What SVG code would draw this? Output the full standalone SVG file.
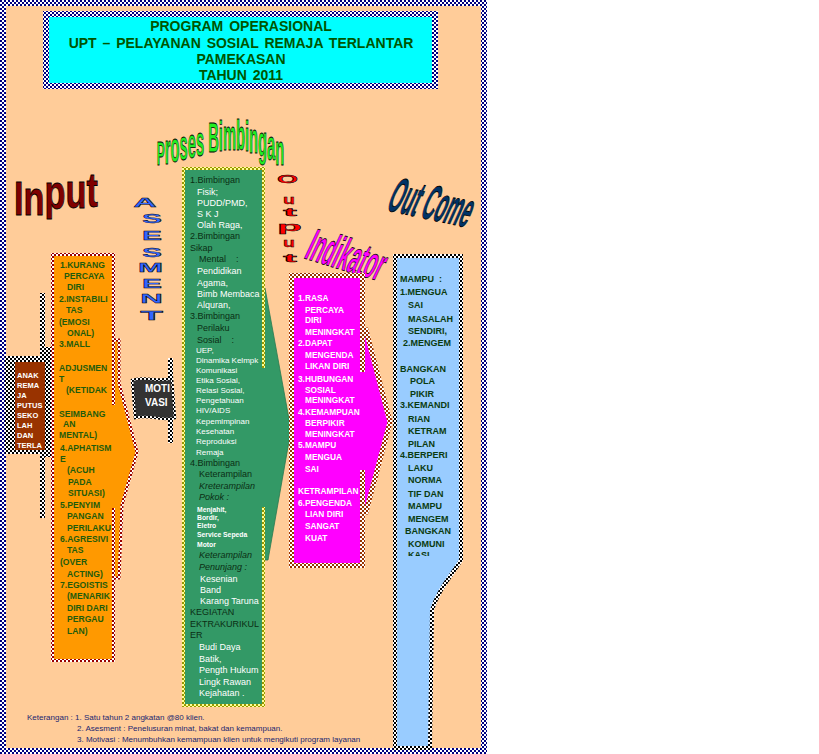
<svg xmlns="http://www.w3.org/2000/svg" width="819" height="754" viewBox="0 0 819 754">
<defs>
<pattern id="pNavy" width="4" height="4" patternUnits="userSpaceOnUse"><rect width="4" height="4" fill="#fff"/><rect width="2" height="2" fill="#000080"/><rect x="2" y="2" width="2" height="2" fill="#000080"/></pattern>
<pattern id="pRed" width="4" height="4" patternUnits="userSpaceOnUse"><rect width="4" height="4" fill="#fff"/><rect width="2" height="2" fill="#990000"/><rect x="2" y="2" width="2" height="2" fill="#990000"/></pattern>
<pattern id="pBrown" width="4" height="4" patternUnits="userSpaceOnUse"><rect width="4" height="4" fill="#fff"/><rect width="2" height="2" fill="#993300"/><rect x="2" y="2" width="2" height="2" fill="#993300"/></pattern>
<pattern id="pOlive" width="4" height="4" patternUnits="userSpaceOnUse"><rect width="4" height="4" fill="#ffff99"/><rect width="2" height="2" fill="#999900"/><rect x="2" y="2" width="2" height="2" fill="#999900"/></pattern>
<pattern id="pBlack" width="4" height="4" patternUnits="userSpaceOnUse"><rect width="4" height="4" fill="#fff"/><rect width="2" height="2" fill="#000"/><rect x="2" y="2" width="2" height="2" fill="#000"/></pattern>
<clipPath id="clipBlue"><rect x="395" y="256" width="70" height="300"/></clipPath>
</defs>
<style>
text{font-family:"Liberation Sans",Arial,sans-serif}
.ttl{font-size:14px;font-weight:bold;fill:#005500;text-anchor:middle;word-spacing:2px}
.or{font-size:8.6px;font-weight:bold;fill:#1f5c0c}
.mg{font-size:8.3px;font-weight:bold;fill:#fff}
.bl{font-size:9px;font-weight:bold;fill:#0b3b10}
.gd{font-size:9px;fill:#0b2e14}
.gi{font-size:9px;font-style:italic;fill:#0b2e14}
.gw{font-size:9px;fill:#fff}
.gs{font-size:8px;fill:#fff}
.gt{font-size:6.8px;font-weight:bold;fill:#fff}
.an{font-size:7.5px;font-weight:bold;fill:#fff}
.nt{font-size:8px;fill:#1a2670}
.wa{font-weight:bold;stroke:#000;stroke-width:0.6}
.asm{font-size:12px;font-weight:bold;fill:#3366ff;stroke:#000;stroke-width:0.35;text-anchor:middle}
.opt{font-size:13px;font-weight:bold;fill:#ff0000;stroke:#000;stroke-width:0.35}
</style>

<g id="page">
<rect x="3" y="3" width="481" height="748" fill="#ffcc99" stroke="url(#pNavy)" stroke-width="6"/>
</g>

<g id="title">
<rect x="46" y="14" width="389" height="72" fill="#00ffff" stroke="url(#pNavy)" stroke-width="6"/>
<text class="ttl" x="241" y="31">PROGRAM  OPERASIONAL</text>
<text class="ttl" x="241" y="48">UPT – PELAYANAN  SOSIAL  REMAJA  TERLANTAR</text>
<text class="ttl" x="241" y="64">PAMEKASAN</text>
<text class="ttl" x="241" y="80">TAHUN 2011</text>
</g>

<g id="wordart">
<text class="wa" transform="translate(14,215) scale(0.98,1.38)" font-size="35" fill="#800000" y="0 0 -4 -5 -6">Input</text>
<text class="wa" transform="scale(0.46,1.3)" font-size="32" fill="#22ee22" x="341" y="126.9 126.2 124.6 123.1 121.5 120 119.2 116.9 116.2 115.4 115.4 116.2 117.7 120 123.1 126.9"><tspan font-size="26">P</tspan>roses Bimbingan</text>
<text class="wa" transform="translate(303,258) rotate(17) skewX(-8) scale(0.58,1.45)" font-size="32" fill="#ff00ff">Indikator</text>
<text class="wa" transform="translate(385,210) rotate(12) skewX(-12) scale(0.54,1.55)" font-size="32" fill="#003366">Out Come</text>
<g id="asesment">
<text class="asm" transform="translate(145,207) scale(2.7,1)">A</text>
<text class="asm" transform="translate(152,223) scale(2.5,1)">S</text>
<text class="asm" transform="translate(152,240) scale(2.5,1)">E</text>
<text class="asm" transform="translate(152,257) scale(2.5,1)">S</text>
<text class="asm" transform="translate(150.5,272) scale(2.5,1)">M</text>
<text class="asm" transform="translate(152,288) scale(2.5,1)">E</text>
<text class="asm" transform="translate(151.5,303) scale(2.6,1)">N</text>
<text class="asm" transform="translate(151.5,320) scale(3.1,1)">T</text>
</g>
<g id="output">
<text class="opt"><tspan x="277" y="183" font-size="11" textLength="21" lengthAdjust="spacingAndGlyphs">O</tspan><tspan x="283" y="204" textLength="12" lengthAdjust="spacingAndGlyphs">u</tspan><tspan x="283" y="215.5" font-size="11" textLength="14" lengthAdjust="spacingAndGlyphs">t</tspan><tspan x="277" y="231" textLength="25" lengthAdjust="spacingAndGlyphs">p</tspan><tspan x="283" y="247" textLength="12" lengthAdjust="spacingAndGlyphs">u</tspan><tspan x="283" y="262" font-size="11" textLength="14" lengthAdjust="spacingAndGlyphs">t</tspan></text>
</g>
</g>

<g id="connectors"></g>

<g id="node-anak">
<rect x="40" y="293" width="5" height="225" fill="url(#pBlack)"/>
<rect x="45" y="347" width="6" height="110" fill="url(#pBlack)"/>
<rect x="5" y="356" width="42" height="98" fill="url(#pBlack)"/>
<rect x="15" y="362" width="30" height="88" fill="#993300"/>
<text class="an" x="17" y="378">ANAK</text>
<text class="an" x="17" y="388">REMA</text>
<text class="an" x="17" y="398">JA</text>
<text class="an" x="17" y="408">PUTUS</text>
<text class="an" x="17" y="418">SEKO</text>
<text class="an" x="17" y="428">LAH</text>
<text class="an" x="17" y="438">DAN</text>
<text class="an" x="17" y="448">TERLA</text>
</g>

<g id="node-input">
<polygon points="100,340 119,340 119,383 137,452 122,505 119,578 100,578" fill="#ff9900" stroke="url(#pRed)" stroke-width="3"/>
<rect x="52.5" y="254.5" width="61" height="406" fill="#ff9900" stroke="url(#pRed)" stroke-width="3"/>
<rect x="110" y="405" width="9" height="103" fill="#ff9900"/>
<text class="or" x="60" y="268">1.KURANG</text>
<text class="or" x="64" y="279">PERCAYA</text>
<text class="or" x="67" y="290">DIRI</text>
<text class="or" x="59" y="302">2.INSTABILI</text>
<text class="or" x="66" y="313">TAS</text>
<text class="or" x="59" y="325">(EMOSI</text>
<text class="or" x="67" y="336">ONAL)</text>
<text class="or" x="59" y="347">3.MALL</text>
<text class="or" x="59" y="371">ADJUSMEN</text>
<text class="or" x="59" y="382">T</text>
<text class="or" x="66" y="393">(KETIDAK</text>
<text class="or" x="59" y="417">SEIMBANG</text>
<text class="or" x="63" y="427">AN</text>
<text class="or" x="59" y="438">MENTAL)</text>
<text class="or" x="60" y="451">4.APHATISM</text>
<text class="or" x="60" y="462">E</text>
<text class="or" x="67" y="473">(ACUH</text>
<text class="or" x="68" y="485">PADA</text>
<text class="or" x="68" y="496">SITUASI)</text>
<text class="or" x="60" y="508">5.PENYIM</text>
<text class="or" x="67" y="519">PANGAN</text>
<text class="or" x="67" y="531">PERILAKU</text>
<text class="or" x="60" y="542">6.AGRESIVI</text>
<text class="or" x="67" y="553">TAS</text>
<text class="or" x="60" y="565">(OVER</text>
<text class="or" x="67" y="577">ACTING)</text>
<text class="or" x="60" y="588">7.EGOISTIS</text>
<text class="or" x="67" y="599">(MENARIK</text>
<text class="or" x="67" y="611">DIRI DARI</text>
<text class="or" x="67" y="622">PERGAU</text>
<text class="or" x="67" y="634">LAN)</text>
</g>

<g id="node-motivasi">
<rect x="168" y="358" width="5" height="85" fill="url(#pBlack)"/>
<path d="M132,380 C145,375 158,383 172,378 L175,418 C162,422 150,414 135,418 Z" fill="#333333" stroke="url(#pBlack)" stroke-width="2.5"/>
<text x="145" y="392" font-size="10" font-weight="bold" fill="#fff">MOTI</text>
<text x="145" y="406" font-size="10" font-weight="bold" fill="#fff">VASI</text>
</g>

<g id="node-proses">
<polygon points="250,288 265,288 291,430 268,560 250,560" fill="#339966" stroke="#2a7a50" stroke-width="0.8"/>
<rect x="183.5" y="168.5" width="80" height="537" fill="#339966" stroke="url(#pOlive)" stroke-width="3"/>
<rect x="260" y="368" width="8" height="139" fill="#339966"/>
<text class="gd" x="190" y="183">1.Bimbingan</text>
<text class="gw" x="197" y="195">Fisik;</text>
<text class="gw" x="197" y="206">PUDD/PMD,</text>
<text class="gw" x="197" y="217">S K J</text>
<text class="gw" x="197" y="228">Olah Raga,</text>
<text class="gd" x="190" y="239">2.Bimbingan</text>
<text class="gd" x="190" y="251">Sikap</text>
<text class="gd" x="199" y="262" xml:space="preserve">Mental    :</text>
<text class="gw" x="197" y="274">Pendidikan</text>
<text class="gw" x="197" y="286">Agama,</text>
<text class="gw" x="197" y="297">Bimb Membaca</text>
<text class="gw" x="197" y="308">Alquran,</text>
<text class="gd" x="190" y="319">3.Bimbingan</text>
<text class="gd" x="197" y="331">Perilaku</text>
<text class="gd" x="197" y="343" xml:space="preserve">Sosial    :</text>
<text class="gs" x="196" y="353">UEP,</text>
<text class="gs" x="196" y="363">Dinamika Kelmpk</text>
<text class="gs" x="196" y="373">Komunikasi</text>
<text class="gs" x="196" y="383">Etika Sosial,</text>
<text class="gs" x="196" y="393">Relasi Sosial,</text>
<text class="gs" x="196" y="403">Pengetahuan</text>
<text class="gs" x="196" y="413">HIV/AIDS</text>
<text class="gs" x="196" y="424">Kepemimpinan</text>
<text class="gs" x="196" y="434">Kesehatan</text>
<text class="gs" x="196" y="444">Reproduksi</text>
<text class="gs" x="196" y="455">Remaja</text>
<text class="gd" x="190" y="466">4.Bimbingan</text>
<text class="gd" x="199" y="477">Keterampilan</text>
<text class="gi" x="199" y="489">Kreterampilan</text>
<text class="gi" x="199" y="500">Pokok :</text>
<text class="gt" x="197" y="512">Menjahit,</text>
<text class="gt" x="197" y="520">Bordir,</text>
<text class="gt" x="197" y="528">Eletro</text>
<text class="gt" x="197" y="537">Service Sepeda</text>
<text class="gt" x="197" y="547">Motor</text>
<text class="gi" x="199" y="558">Keterampilan</text>
<text class="gi" x="199" y="570">Penunjang :</text>
<text class="gw" x="200" y="582">Kesenian</text>
<text class="gw" x="200" y="593">Band</text>
<text class="gw" x="200" y="604">Karang Taruna</text>
<text class="gd" x="190" y="615">KEGIATAN</text>
<text class="gd" x="190" y="627">EKTRAKURIKUL</text>
<text class="gd" x="190" y="638">ER</text>
<text class="gw" x="199" y="650">Budi Daya</text>
<text class="gw" x="199" y="662">Batik,</text>
<text class="gw" x="199" y="673">Pength Hukum</text>
<text class="gw" x="199" y="685">Lingk Rawan</text>
<text class="gw" x="199" y="696">Kejahatan .</text>
</g>

<g id="node-indikator">
<polygon points="340,330 366,330 390,422 366,512 340,512" fill="#ff00ff" stroke="url(#pBrown)" stroke-width="5"/>
<rect x="291.5" y="275.5" width="71" height="290" fill="#ff00ff" stroke="url(#pBrown)" stroke-width="5"/>
<rect x="358" y="372" width="10" height="98" fill="#ff00ff"/>
<text class="mg" x="298" y="301">1.RASA</text>
<text class="mg" x="305" y="313">PERCAYA</text>
<text class="mg" x="305" y="323">DIRI</text>
<text class="mg" x="305" y="335">MENINGKAT</text>
<text class="mg" x="298" y="346">2.DAPAT</text>
<text class="mg" x="305" y="358">MENGENDA</text>
<text class="mg" x="305" y="369">LIKAN DIRI</text>
<text class="mg" x="298" y="382">3.HUBUNGAN</text>
<text class="mg" x="305" y="393">SOSIAL</text>
<text class="mg" x="305" y="403">MENINGKAT</text>
<text class="mg" x="298" y="415">4.KEMAMPUAN</text>
<text class="mg" x="305" y="426">BERPIKIR</text>
<text class="mg" x="305" y="437">MENINGKAT</text>
<text class="mg" x="298" y="448">5.MAMPU</text>
<text class="mg" x="305" y="460">MENGUA</text>
<text class="mg" x="305" y="472">SAI</text>
<text class="mg" x="298" y="494">KETRAMPILAN</text>
<text class="mg" x="298" y="506">6.PENGENDA</text>
<text class="mg" x="305" y="517">LIAN DIRI</text>
<text class="mg" x="305" y="529">SANGAT</text>
<text class="mg" x="305" y="541">KUAT</text>
</g>

<g id="node-outcome">
<path d="M395,256 H461 V560 C452,575 438,590 432,610 L430,748 L395,748 Z" fill="#99ccff" stroke="url(#pBlack)" stroke-width="4"/>
<g clip-path="url(#clipBlue)">
<text class="bl" x="400" y="282" xml:space="preserve">MAMPU  :</text>
<text class="bl" x="400" y="295">1.MENGUA</text>
<text class="bl" x="408" y="308">SAI</text>
<text class="bl" x="408" y="322">MASALAH</text>
<text class="bl" x="408" y="334">SENDIRI,</text>
<text class="bl" x="403" y="346">2.MENGEM</text>
<text class="bl" x="400" y="372">BANGKAN</text>
<text class="bl" x="410" y="384">POLA</text>
<text class="bl" x="410" y="397">PIKIR</text>
<text class="bl" x="400" y="408">3.KEMANDI</text>
<text class="bl" x="408" y="422">RIAN</text>
<text class="bl" x="408" y="434">KETRAM</text>
<text class="bl" x="408" y="447">PILAN</text>
<text class="bl" x="400" y="458">4.BERPERI</text>
<text class="bl" x="408" y="471">LAKU</text>
<text class="bl" x="408" y="483">NORMA</text>
<text class="bl" x="408" y="497">TIF DAN</text>
<text class="bl" x="408" y="509">MAMPU</text>
<text class="bl" x="408" y="522">MENGEM</text>
<text class="bl" x="405" y="534">BANGKAN</text>
<text class="bl" x="408" y="547">KOMUNI</text>
<text class="bl" x="408" y="558">KASI</text>
</g>
</g>

<g id="notes">
<text class="nt" x="27" y="720">Keterangan : 1. Satu tahun 2 angkatan @80 klien.</text>
<text class="nt" x="77" y="731">2. Asesment : Penelusuran minat, bakat dan kemampuan.</text>
<text class="nt" x="77" y="742">3. Motivasi : Menumbuhkan kemampuan klien  untuk mengikuti program layanan</text>
</g>
</svg>
